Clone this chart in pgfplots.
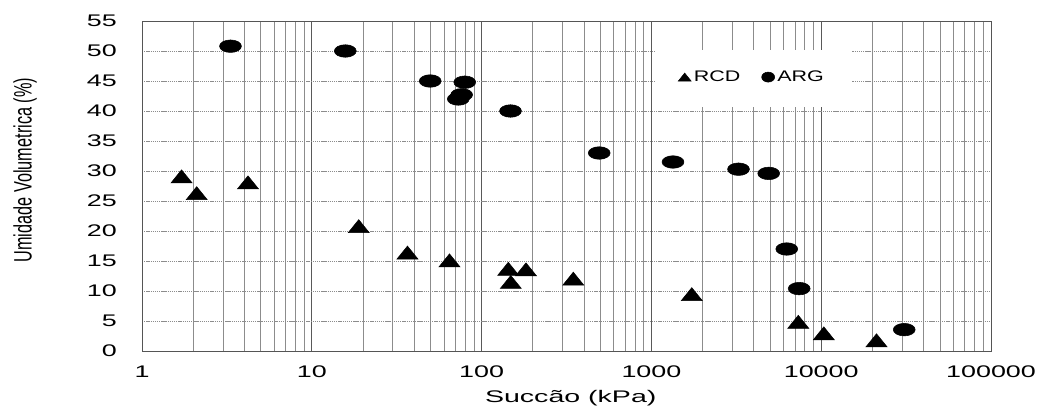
\documentclass[border=0pt]{standalone}
\usepackage{fontspec}
\setmainfont{Liberation Sans}
\newfontfamily\tickfont[FakeStretch=1.6]{Liberation Sans}
\newfontfamily\xlabfont[FakeStretch=1.7]{Liberation Sans}
\newfontfamily\legfont[FakeStretch=1.4]{Liberation Sans}
\usepackage{pgfplots}
\pgfplotsset{compat=1.18}
\definecolor{gridc}{HTML}{8C8C8C}
\definecolor{framec}{HTML}{555555}
\begin{document}
\begin{tikzpicture}
\begin{axis}[
  at={(106.5pt,42.75pt)}, anchor=south west,
  scale only axis, width=636.75pt, height=247.5pt,
  xmode=log, xmin=1, xmax=100000, ymin=0, ymax=55,
  xtick={1,10,100,1000,10000,100000},
  xticklabels={1,10,100,1000,10000,100000},
  minor xtick={2,3,4,5,6,7,8,9,20,30,40,50,60,70,80,90,200,300,400,500,600,700,800,900,2000,3000,4000,5000,6000,7000,8000,9000,20000,30000,40000,50000,60000,70000,80000,90000},
  ytick={0,5,...,55},
  major tick length=0pt, minor tick length=0pt,
  xmajorgrids, xminorgrids, ymajorgrids,
  major x grid style={black!65, line width=0.6pt},
  minor x grid style={gridc, line width=0.5pt},
  major y grid style={gridc, line width=0.55pt, dash pattern=on 1pt off 0.6pt},
  axis line style={framec, line width=0.6pt},
  /pgf/number format/assume math mode=true,
  xticklabel style={font=\tickfont\fontsize{12.6pt}{15pt}\selectfont, anchor=north, inner sep=0pt, yshift=-10.9pt},
  yticklabel style={font=\tickfont\fontsize{12.6pt}{15pt}\selectfont, anchor=east, inner sep=0pt, xshift=-18.75pt},
  xlabel={\xlabfont\fontsize{12.6pt}{15pt}\selectfont Succão (kPa)},
  xlabel style={at={(axis description cs:0.505,-0.142)}, anchor=center, inner sep=0pt},
  ylabel={\scalebox{1}[1.55]{\fontsize{12.2pt}{14pt}\selectfont Umidade Volumetrica (\%)}},
  ylabel style={at={(axis description cs:-0.1378,0.548)}, anchor=center, rotate=0, inner sep=0pt},
  legend columns=2,
  legend style={draw=none, fill=none, at={(axis description cs:0.6313,0.830)}, anchor=west,
    font=\legfont\fontsize{11.5pt}{13pt}\selectfont, inner sep=0pt,
    /tikz/every even column/.append style={column sep=14pt}},
  legend cell align=left,
  legend image code/.code={\draw[#1] plot coordinates {(0.18cm,0cm)};},
]
\fill[white] (axis cs:1064,40.7) rectangle (axis cs:15180,50.2);
\addlegendimage{only marks, mark=triangle*, mark size=4pt, mark options={xscale=1.4, yshift=-1pt}, black}
\addlegendentry{RCD}
\addlegendimage{only marks, mark=*, mark size=3.75pt, mark options={xscale=1.3}, black}
\addlegendentry{ARG}
\addplot[forget plot, only marks, mark=triangle*, mark size=6.5pt, mark options={xscale=1.4, yshift=-1.6pt}, black] coordinates {
(1.71,29.1) (2.1,26.3) (4.21,28.1) (18.9,20.8) (36.6,16.4) (64.7,15.1)
(143.6,13.7) (182.6,13.6) (148.6,11.5) (346.8,12.05) (1729,9.47)
(7330,4.86) (10360,2.94) (21170,1.78)
};
\addplot[forget plot, only marks, mark=*, mark size=4.7pt, mark options={xscale=1.75}, black] coordinates {
(3.32,50.8) (15.75,50.0) (49.8,45.0) (79.6,44.8) (72.9,42.0) (76.3,42.7)
(148,40.0) (492.7,33.0) (1340,31.5) (3258,30.3) (4908,29.6)
(6270,17.0) (7419,10.4) (30830,3.56)
};
\end{axis}
\pgfresetboundingbox
\useasboundingbox (0,0) rectangle (780.75pt,306pt);
\end{tikzpicture}
\end{document}
